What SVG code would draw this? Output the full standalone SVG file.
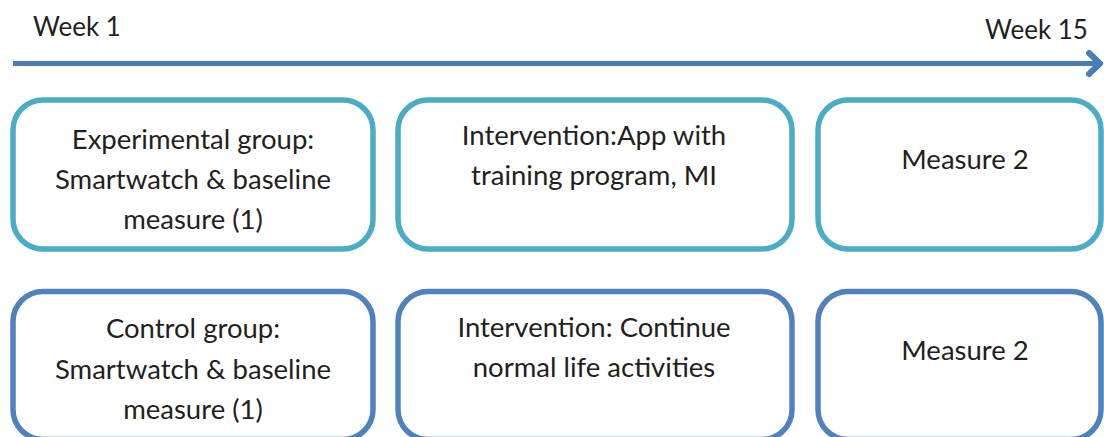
<svg xmlns="http://www.w3.org/2000/svg" width="1104" height="437" viewBox="0 0 1104 437">
  <style>
    .t { font-family: Lato, "Open Sans", "Liberation Sans", sans-serif; font-size: 27.5px; fill: #231F20; text-anchor: middle; }
    .tl { font-family: Lato, "Open Sans", "Liberation Sans", sans-serif; font-size: 26px; fill: #231F20; }
    .exp { fill: #FFFFFF; stroke: #4BACC6; stroke-width: 5.5; }
    .ctl { fill: #FFFFFF; stroke: #4F81BD; stroke-width: 5.5; }
    .axis { fill: none; stroke: #4A7EBB; stroke-width: 5; stroke-linecap: round; stroke-linejoin: round; }
  </style>
  <rect width="1104" height="437" fill="#FFFFFF"/>
  <g id="timeline">
    <text class="tl" x="33" y="36">Week 1</text>
    <text class="tl" x="985" y="39">Week 15</text>
  </g>
  <g id="connectors">
    <line class="axis" x1="13" y1="63.5" x2="1099" y2="63.5" style="stroke-linecap:butt"/>
    <polyline class="axis" points="1089,53 1100,63.5 1089,74" style="stroke-width:6"/>
  </g>
  <g id="exp-baseline">
    <rect class="exp" x="13" y="100" width="360" height="149" rx="30" ry="30"/>
    <text class="t" x="193" y="149">Experimental group:</text>
    <text class="t" x="193" y="189">Smartwatch &amp; baseline</text>
    <text class="t" x="193" y="229">measure (1)</text>
  </g>
  <g id="exp-intervention">
    <rect class="exp" x="398" y="100" width="394" height="149" rx="30" ry="30"/>
    <text class="t" x="594" y="145">Intervention:App with</text>
    <text class="t" x="594" y="185">training program, MI</text>
  </g>
  <g id="exp-measure2">
    <rect class="exp" x="818" y="100" width="283" height="149" rx="30" ry="30"/>
    <text class="t" x="965" y="169">Measure 2</text>
  </g>
  <g id="ctl-baseline">
    <rect class="ctl" x="13" y="291.5" width="360" height="148" rx="30" ry="30"/>
    <text class="t" x="193" y="338">Control group:</text>
    <text class="t" x="193" y="379">Smartwatch &amp; baseline</text>
    <text class="t" x="193" y="419">measure (1)</text>
  </g>
  <g id="ctl-intervention">
    <rect class="ctl" x="398" y="291.5" width="394" height="148" rx="30" ry="30"/>
    <text class="t" x="594" y="337">Intervention: Continue</text>
    <text class="t" x="594" y="377">normal life activities</text>
  </g>
  <g id="ctl-measure2">
    <rect class="ctl" x="818" y="291.5" width="283" height="148" rx="30" ry="30"/>
    <text class="t" x="965" y="360">Measure 2</text>
  </g>
</svg>
